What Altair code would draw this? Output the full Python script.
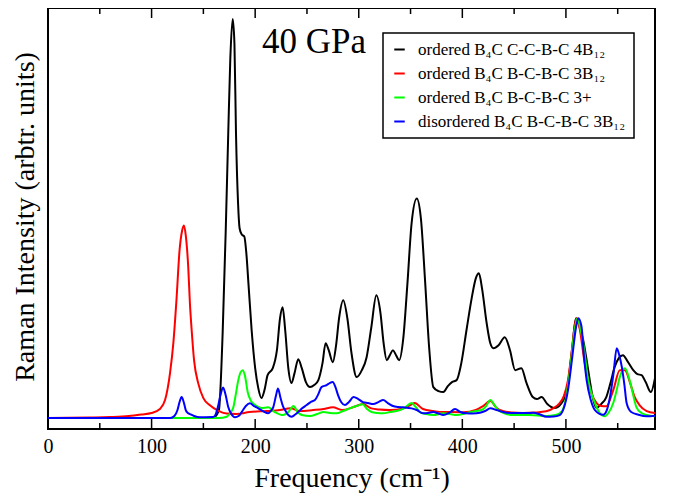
import altair as alt
import pandas as pd

# ---- data ----
series_names = [
    "ordered B\u2084C C-C-B-C 4B\u2081\u2082",
    "ordered B\u2084C B-C-B-C 3B\u2081\u2082",
    "ordered B\u2084C B-C-B-C 3+",
    "disordered B\u2084C B-C-B-C 3B\u2081\u2082",
]
series_colors = ["#000000", "#ff0000", "#00ff00", "#0000ff"]

black_x = [0, 150, 160, 165, 168.6, 171.5, 174, 176, 178.3, 180, 181.5, 183.5, 185, 187, 189.5, 191.5,
           193.5, 196.6, 200, 203, 206, 209, 212, 217, 221, 224, 226.5, 229, 232, 235, 238, 241.6, 245,
           249, 253, 257, 261, 265, 268, 271, 275, 278, 281, 285, 289, 293, 298, 303, 307.6, 312, 317,
           321, 324, 327, 330, 333, 336, 339, 343, 347, 351, 356, 360, 364, 368, 372, 377, 381.6, 386,
           390, 394.5, 399, 404, 409, 413, 416, 419, 423.5, 427, 430, 435, 441, 446, 451, 457, 462, 468,
           472, 476.5, 482, 489, 495, 500.6, 505, 510, 513, 516.7, 520, 523, 526, 529.6, 534, 539, 543,
           547, 551, 555, 560, 565, 569, 573, 577, 582, 586]
black_y = [0, 0, 0.5, 8, 85, 185, 285, 360, 400, 375, 285, 215, 190, 184, 182, 165,
           135, 88, 50, 30, 20, 28, 43, 50, 68, 100, 111, 88, 50, 35, 45, 59, 50,
           36, 31, 33, 38, 55, 75, 68, 56, 72, 100, 118, 100, 65, 41, 48, 61, 90, 123,
           105, 75, 58, 63, 68, 63, 58, 80, 135, 195, 220, 200, 138, 70, 31, 27, 26, 32,
           36, 38, 55, 88, 120, 140, 145, 130, 95, 75, 70, 73, 81, 68, 48, 50, 35, 21,
           19, 21, 14, 10, 14, 25, 60, 100, 92, 78, 58, 38, 20, 10, 14, 21, 35,
           51, 60, 63, 56, 48, 44, 43, 36, 26, 40]

red_x = [0, 40, 60, 78, 90, 100, 108, 113, 117.8, 121, 124, 127, 129.5, 131.3, 133, 135.4, 137, 138.7,
         141, 145, 150, 156, 165, 172.5, 182, 194.5, 211, 224, 234, 243, 256, 266, 275, 284, 295, 304,
         312, 320, 330, 343, 348, 354, 362, 372, 381.6, 391, 401, 413, 420, 427, 433, 439, 448, 458.5,
         470, 481, 488, 494, 498, 502, 506, 510, 513, 518, 523, 529.6, 534, 539, 545.7, 552, 557, 562,
         566, 571, 578, 586]
red_y = [0, 0.5, 1, 2, 3.5, 5, 9, 18, 45, 75, 118, 168, 188, 193, 183, 151, 115, 88,
         58, 35, 20, 13, 7, 4.5, 4, 6, 7, 8, 9.7, 7, 8, 9, 10.7, 8, 11, 14,
         9.7, 8.5, 8, 9.7, 12, 15, 9, 7, 6, 6, 5.7, 8, 12, 17, 10, 7, 5.5, 5,
         5.5, 6.7, 10, 15, 22, 38, 70, 100, 91, 56, 30, 15, 12, 11.7, 28, 48, 48, 35,
         22, 13, 7, 5]

green_x = [0, 120, 165, 172.5, 176, 179, 181.5, 183.7, 186, 188, 190, 193, 196, 200, 206, 212.6, 219,
           227, 232, 237, 241, 245, 253, 260, 266, 272, 278.6, 285, 291.5, 298, 303.7, 308, 312.4, 318,
           323.6, 330, 336.6, 344, 351, 355, 359, 365, 372, 381.6, 388, 394.5, 401, 407, 413, 418.6,
           423, 427, 431, 434.6, 440, 449, 465, 481, 490, 496, 500, 504, 508, 511, 513.5, 516.7, 521.5,
           528, 532, 537.6, 541, 545.7, 549, 552, 557, 562, 568, 573, 578, 586]
green_y = [0, 0, 0, 1.3, 5, 11, 25, 38, 46, 48, 43, 25, 17, 13, 10, 10.7, 6,
           3, 6, 12, 6, 3, 2, 4, 6, 5, 4.7, 7, 9.7, 12, 13.7, 9, 6, 5,
           4.7, 6, 7, 10, 15, 11, 6, 4, 3, 4.7, 4, 3, 4, 5.7, 7, 8,
           12, 18, 13, 8, 5, 3, 3, 2, 3, 6.7, 20, 48, 85, 100, 92, 75, 38,
           15, 6, 1.7, 5, 15, 28, 41, 50, 36, 11, 5, 3, 1.7]

blue_x = [0, 118, 122, 125, 127, 129, 131, 133, 135, 137, 141, 146.7, 159.5, 162, 164, 166.5, 169,
          171.5, 174, 177, 180.5, 184, 187, 191, 195, 199, 203, 207.5, 212.6, 215, 217.5, 220, 222,
          224.5, 226.8, 228.8, 232, 235, 238, 241.6, 245, 249.7, 253.5, 257.7, 261, 264, 269, 272,
          274.8, 277.5, 280, 283, 286.7, 290.5, 295, 299.5, 304, 309, 314, 319, 323.6, 328, 333, 338,
          343, 351, 356, 362, 367, 372, 377, 381.6, 387, 393, 398, 404, 410, 417, 422, 427, 433, 439.5,
          442.7, 450, 456, 462, 468.4, 474, 481, 488, 494, 498, 502, 506, 509.6, 512, 515, 517.5, 520,
          524, 528, 536, 539.5, 542.5, 546, 549, 551.5, 554, 556.5, 558.6, 563, 570, 578, 586]
blue_y = [0, 0, 2, 8, 16, 21, 16, 8, 5, 4, 2, 0.7, 1, 4, 11, 23, 30.7,
          23, 11, 4, 0.7, 2, 6, 12, 14.7, 12, 9.7, 7, 4.7, 7, 11, 22, 29.7,
          20, 12, 8, 3, 1.3, 3, 6, 9.5, 13, 16, 18, 24, 31, 33, 35,
          36, 31, 23, 16, 13, 16, 21, 19, 16, 15, 14, 16, 18, 15, 12, 11,
          10.7, 9.7, 8, 4.7, 5, 6, 4.5, 3, 5, 9, 6, 4.7, 4.5, 5.3, 7, 9.7, 8, 6,
          5.3, 5, 5, 5, 5.3, 4, 1.3, 1.5, 3, 10, 28, 60, 90, 100, 92, 61, 38,
          18, 8, 3.3, 8, 21, 45, 70, 63, 51, 33, 15, 6, 3.3, 1.7, 2.3]

major_ticks = [0, 100, 200, 300, 400, 500]
minor_ticks = [50, 150, 250, 350, 450, 550]
annotation = ["40 GPa"]

# ---- build table ----
frames = []
for order, (name, xs, ys) in enumerate(zip(series_names,
                                           [black_x, red_x, green_x, blue_x],
                                           [black_y, red_y, green_y, blue_y])):
    frames.append(pd.DataFrame({"freq": xs, "intensity": ys, "series": name, "order": order}))
df = pd.concat(frames, ignore_index=True)

W, H = 607, 421
FONT = "Liberation Serif"
x_scale = alt.Scale(domain=[0, 586], nice=False, zero=False)
y_scale = alt.Scale(domain=[-11, 411], nice=False, zero=False)

x_axis = alt.Axis(values=major_ticks, ticks=False, domain=False, grid=False, labelFlush=False,
                  labelFont=FONT, labelFontSize=20, labelColor="black", labelPadding=7,
                  title="Frequency (cm\u207b\u00b9)", titleFont=FONT, titleFontSize=28,
                  titleFontWeight="normal", titleColor="black", titleY=57,
                  titleBaseline="alphabetic")
y_axis = alt.Axis(labels=False, ticks=False, domain=False, grid=False,
                  title="Raman Intensity (arbtr. units)", titleFont=FONT, titleFontSize=28,
                  titleFontWeight="normal", titleColor="black", titleAngle=270,
                  titleX=-15, titleY=H / 2 - 2, titleBaseline="alphabetic", titleAlign="center")

lines = alt.Chart(df).mark_line(strokeWidth=2, interpolate="monotone", clip=True).encode(
    x=alt.X("freq:Q", scale=x_scale, axis=x_axis),
    y=alt.Y("intensity:Q", scale=y_scale, axis=y_axis),
    color=alt.Color("series:N", sort=series_names,
                    scale=alt.Scale(domain=series_names, range=series_colors),
                    legend=alt.Legend(title=None, orient="none", legendX=335, legendY=25,
                                      symbolType="stroke", symbolStrokeWidth=2, symbolSize=110,
                                      labelFont=FONT, labelFontSize=17, labelColor="black",
                                      labelLimit=400, strokeColor="black", fillColor="white",
                                      padding=8, rowPadding=6, labelOffset=10)),
    order=alt.Order("order:Q"),
)

major_df = pd.DataFrame({"freq": major_ticks})
minor_df = pd.DataFrame({"freq": minor_ticks})


def tick_layer(data, y0, y1):
    return alt.Chart(data).mark_rule(color="black", strokeWidth=1.5).encode(
        x=alt.X("freq:Q", scale=x_scale, axis=x_axis),
        y=alt.value(y0), y2=alt.value(y1))


ticks = [
    tick_layer(major_df, H, H - 10),
    tick_layer(minor_df, H, H - 6),
    tick_layer(major_df, 0, 10),
    tick_layer(minor_df, 0, 6),
]

label = alt.Chart(pd.DataFrame({"label": annotation})).mark_text(
    align="left", baseline="alphabetic", font=FONT, fontSize=35, color="black"
).encode(text="label:N", x=alt.value(214), y=alt.value(45))

chart = alt.layer(lines, *ticks, label).properties(
    width=W, height=H,
    autosize=alt.AutoSizeParams(type="none"),
    padding={"left": 40, "top": 0, "right": 10, "bottom": 69},
    background="white",
).configure_view(stroke="black", strokeWidth=2).configure_legend(strokeWidth=1.5)

chart.save("out.html", embed_options={"renderer": "svg", "actions": False})
